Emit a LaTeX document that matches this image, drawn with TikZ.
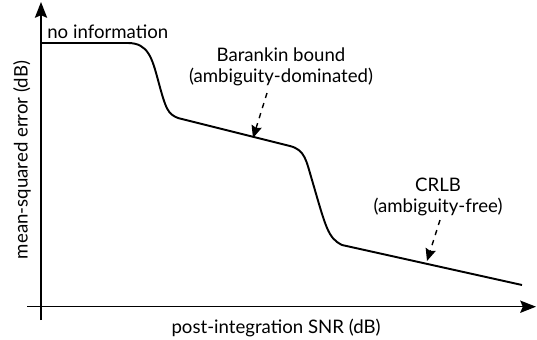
\documentclass[tikz,border=0pt]{standalone}
\usepackage{fontspec}
\setmainfont{Lato}
\usetikzlibrary{arrows.meta}

\begin{document}
\begin{tikzpicture}[
      x=0.02cm, y=-0.02cm,
      axis/.style={line width=0.8pt, -{Stealth[length=9pt, width=7pt, inset=1.5pt]}},
      curve/.style={line width=1.1pt, line join=round},
      lbl/.style={font=\fontsize{10.6}{12.2}\selectfont, align=center, inner sep=0pt},
      pointer/.style={dashed, line width=0.8pt, -{Stealth[length=7pt, width=6pt, inset=1pt]}}
    ]
    \useasboundingbox (0,0) rectangle (537,339);

    % axes
    \coordinate (ybot) at (41,320);
    \coordinate (ytop) at (41,2);
    \coordinate (xleft) at (27,306.7);
    \coordinate (xright) at (536,306.7);
    \draw[axis] (ybot) -- (ytop);
    \draw[axis] (xleft) -- (xright);

    % error curve
    \draw[curve] (42,43) -- (128,43)
      .. controls (148,43) and (152,58) .. (158,80)
      .. controls (166,110) and (168,114) .. (178,118)
      -- (290,146)
      .. controls (305,150) and (306,160) .. (312,180)
      .. controls (326,228) and (328,238) .. (342,245)
      -- (522,285);

    % labels
    \node[lbl, anchor=base west] (noinfo) at (47,38) {no information};
    \node[lbl] (bb) at (281,67) {Barankin bound\\(ambiguity-dominated)};
    \node[lbl] (crlb) at (438,197) {CRLB\\(ambiguity-free)};
    \node[lbl] (xlab) at (276,328) {post-integration SNR (dB)};
    \node[lbl, rotate=90] (ylab) at (22,160) {mean-squared error (dB)};

    \coordinate (bbtail) at (267,93);
    \coordinate (bbtip) at (253,138);
    \coordinate (crlbtail) at (440,220);
    \coordinate (crlbtip) at (427,261);
    \draw[pointer] (bbtail) -- (bbtip);
    \draw[pointer] (crlbtail) -- (crlbtip);
\end{tikzpicture}
\end{document}
